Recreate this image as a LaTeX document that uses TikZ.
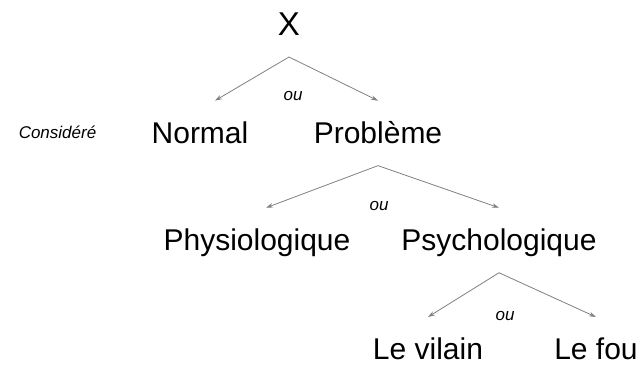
\documentclass[tikz,border=0pt]{standalone}
\usepackage{fontspec}
\setmainfont{Liberation Sans}
\usetikzlibrary{trees,arrows.meta}
\tikzset{tip shift/.store in=\tipshift, tip shift=0pt}
\begin{document}
\begin{tikzpicture}[
		every node/.style={anchor=base,inner sep=0pt,font=\fontsize{30}{36}\selectfont},
		root/.style={font=\fontsize{33}{40}\selectfont},
		small/.style={font=\fontsize{17}{20}\selectfont\itshape},
		edge from parent/.style={draw,line width=0.8pt,gray,-{Stealth[length=7pt,width=4.5pt]}},
		edge from parent path={([yshift=-22pt]\tikzparentnode.base) -- ([xshift=\tipshift,yshift=43pt]\tikzchildnode.base)},
		level 1/.style={level distance=120pt,sibling distance=178pt},
		level 2/.style={level distance=118pt,sibling distance=242pt},
		level 3/.style={level distance=117pt,sibling distance=168pt},
	]
	\useasboundingbox (0,0) rectangle (643pt,-367pt);
	\node[root] (x) at (289pt,-35pt) {X}
	child[tip shift=15pt]{
		node (normal) {Normal}
	}
	child{
		node (probleme) {Problème}
		child[tip shift=9pt]{
			node (physio) {Physiologique}
		}
		child{
			node (psycho) {Psychologique}
			child[xshift=13pt] {node (vilain) {Le vilain}}
			child[xshift=13pt] {node (fou) {Le fou}}
		}
	};
	% les petits mots
	\node[small,anchor=base east] (considere) at ([xshift=-55pt,yshift=5pt]normal.base west) {Considéré};
	\node[small] (ou1) at ([xshift=4pt,yshift=-65pt]x.base) {ou};
	\node[small] (ou2) at ([xshift=1pt,yshift=-67pt]probleme.base) {ou};
	\node[small] (ou3) at ([xshift=6pt,yshift=-70pt]psycho.base) {ou};
\end{tikzpicture}
\end{document}
